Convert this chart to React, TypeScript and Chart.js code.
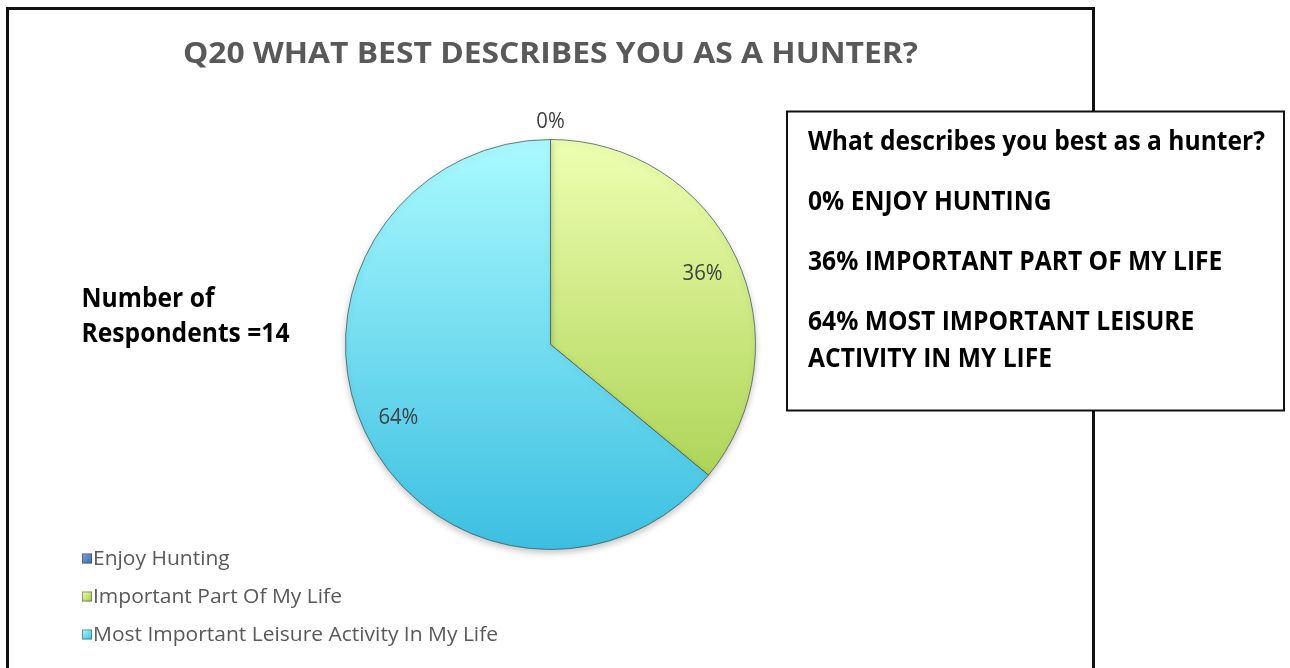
import React, { useEffect, useRef } from "react";
import { Chart, registerables } from "chart.js";

Chart.register(...registerables);

// ---- data ----
const categories = [
  "Enjoy Hunting",
  "Important Part Of My Life",
  "Most Important Leisure Activity In My Life",
];
const shares = [0, 36, 64];
const sliceLabels = ["0%", "36%", "64%"];
const titleText = "Q20 WHAT BEST DESCRIBES YOU AS A HUNTER?";
const respondentLines = ["Number of", "Respondents =14"];
const boxHeading = "What describes you best as a hunter?";
const boxParagraphs = [
  ["0% ENJOY HUNTING"],
  ["36% IMPORTANT PART OF MY LIFE"],
  ["64% MOST IMPORTANT LEISURE", "ACTIVITY IN MY LIFE"],
];

// ---- style ----
const FONT = "'Open Sans', 'Noto Sans', sans-serif";
const gradTop = ["#7aa6e0", "#eeffb2", "#aafaff"];
const gradBottom = ["#3a6cb0", "#a0cb44", "#3cbfe1"];
const solid = ["#4f81bd", "#c4e26c", "#6ad8f0"];

function drawScaled(
  ctx: CanvasRenderingContext2D,
  text: string,
  x: number,
  y: number,
  sx: number,
  align: CanvasTextAlign = "left"
) {
  ctx.save();
  ctx.translate(x, y);
  ctx.scale(sx, 1);
  ctx.textAlign = align;
  ctx.textBaseline = "alphabetic";
  ctx.fillText(text, 0, 0);
  ctx.restore();
}

function fitScale(ctx: CanvasRenderingContext2D, text: string, target: number) {
  const w = ctx.measureText(text).width;
  return w > 0 ? target / w : 1;
}

const overlay = {
  id: "overlay",
  beforeDraw(chart: any) {
    const ctx = chart.ctx as CanvasRenderingContext2D;
    ctx.save();
    ctx.fillStyle = "#ffffff";
    ctx.fillRect(0, 0, chart.width, chart.height);
    ctx.restore();
  },
  beforeDatasetsDraw(chart: any) {
    const ctx = chart.ctx as CanvasRenderingContext2D;
    ctx.save();
    ctx.shadowColor = "rgba(0,0,0,0.22)";
    ctx.shadowBlur = 6;
    ctx.shadowOffsetY = 3;
  },
  afterDatasetsDraw(chart: any) {
    const ctx = chart.ctx as CanvasRenderingContext2D;
    ctx.restore();
    // slice labels
    const meta = chart.getDatasetMeta(0);
    ctx.save();
    ctx.font = `400 21px ${FONT}`;
    ctx.fillStyle = "#404040";
    const cap = 15;
    const ssx = fitScale(ctx, sliceLabels[1], 40);
    meta.data.forEach((arc: any, i: number) => {
      const p = arc.getProps(["x", "y", "startAngle", "endAngle", "outerRadius"], true);
      const mid = (p.startAngle + p.endAngle) / 2;
      const v = shares[i];
      const dist = v === 0 ? p.outerRadius + 19 : p.outerRadius * 0.82;
      const lx = p.x + Math.cos(mid) * dist;
      const ly = p.y + Math.sin(mid) * dist;
      drawScaled(ctx, sliceLabels[i], lx, ly + cap / 2, ssx, "center");
    });
    ctx.restore();
  },
  afterDraw(chart: any) {
    const ctx = chart.ctx as CanvasRenderingContext2D;
    const H = chart.height;
    ctx.save();

    // outer chart border (left, top, right)
    ctx.strokeStyle = "#111111";
    ctx.lineWidth = 3;
    ctx.beginPath();
    ctx.moveTo(7.5, H + 5);
    ctx.lineTo(7.5, 8.5);
    ctx.lineTo(1093.5, 8.5);
    ctx.lineTo(1093.5, H + 5);
    ctx.stroke();

    // title
    ctx.font = `700 29px ${FONT}`;
    ctx.fillStyle = "#595959";
    const tsx = fitScale(ctx, titleText, 735);
    drawScaled(ctx, titleText, 550.5, 63, tsx, "center");

    // respondents note
    ctx.font = `700 26px ${FONT}`;
    ctx.fillStyle = "#000000";
    const rsx = fitScale(ctx, respondentLines[1], 208);
    respondentLines.forEach((line, i) => {
      drawScaled(ctx, line, 81.5, 306.5 + i * 35.5, rsx);
    });

    // legend
    ctx.font = `400 20px ${FONT}`;
    const lsx = fitScale(ctx, categories[2], 405);
    categories.forEach((cat, i) => {
      const base = 565 + i * 38;
      const mx = 82;
      const my = base - 11.5;
      const g = ctx.createLinearGradient(mx, my, mx + 10, my + 10);
      g.addColorStop(0, gradTop[i]);
      g.addColorStop(1, gradBottom[i]);
      ctx.fillStyle = g;
      ctx.fillRect(mx, my, 10, 10);
      ctx.strokeStyle = "rgba(60,60,60,0.5)";
      ctx.lineWidth = 1;
      ctx.strokeRect(mx + 0.5, my + 0.5, 9, 9);
      ctx.fillStyle = "#595959";
      drawScaled(ctx, cat, 93, base, lsx);
    });

    // info box
    const bx = 787, by = 111.5, bw = 497, bh = 299;
    ctx.fillStyle = "#ffffff";
    ctx.fillRect(bx, by, bw, bh);
    ctx.strokeStyle = "#111111";
    ctx.lineWidth = 2;
    ctx.strokeRect(bx, by, bw, bh);

    ctx.font = `700 26px ${FONT}`;
    ctx.fillStyle = "#000000";
    const bsx = fitScale(ctx, boxHeading, 457);
    drawScaled(ctx, boxHeading, 808, 150, bsx);
    const paraStarts = [210, 270, 330];
    boxParagraphs.forEach((para, pi) => {
      para.forEach((line, li) => {
        drawScaled(ctx, line, 808, paraStarts[pi] + li * 36.5, bsx);
      });
    });

    ctx.restore();
  },
};

export default function App() {
  const ref = useRef<HTMLCanvasElement>(null);

  useEffect(() => {
    if (!ref.current) return;
    const chart = new Chart(ref.current, {
      type: "pie",
      data: {
        labels: categories,
        datasets: [
          {
            data: shares,
            backgroundColor: (c: any) => {
              const ch = c.chart;
              const a = ch.chartArea;
              const i = c.dataIndex;
              if (!a) return solid[i];
              const g = ch.ctx.createLinearGradient(0, a.top, 0, a.bottom);
              g.addColorStop(0, gradTop[i]);
              g.addColorStop(1, gradBottom[i]);
              return g;
            },
            borderColor: "rgba(70,85,85,0.75)",
            borderWidth: 1,
          },
        ],
      },
      options: {
        animation: false,
        responsive: true,
        maintainAspectRatio: false,
        rotation: 0,
        layout: { padding: { left: 345, right: 534, top: 139, bottom: 118 } },
        plugins: {
          legend: { display: false },
          title: { display: false },
          tooltip: { enabled: false },
        },
      },
      plugins: [overlay],
    });
    return () => chart.destroy();
  }, []);

  return (
    <div style={{ position: "fixed", left: 0, top: 0, width: 1290, height: 668, background: "#fff" }}>
      <canvas ref={ref} />
    </div>
  );
}
